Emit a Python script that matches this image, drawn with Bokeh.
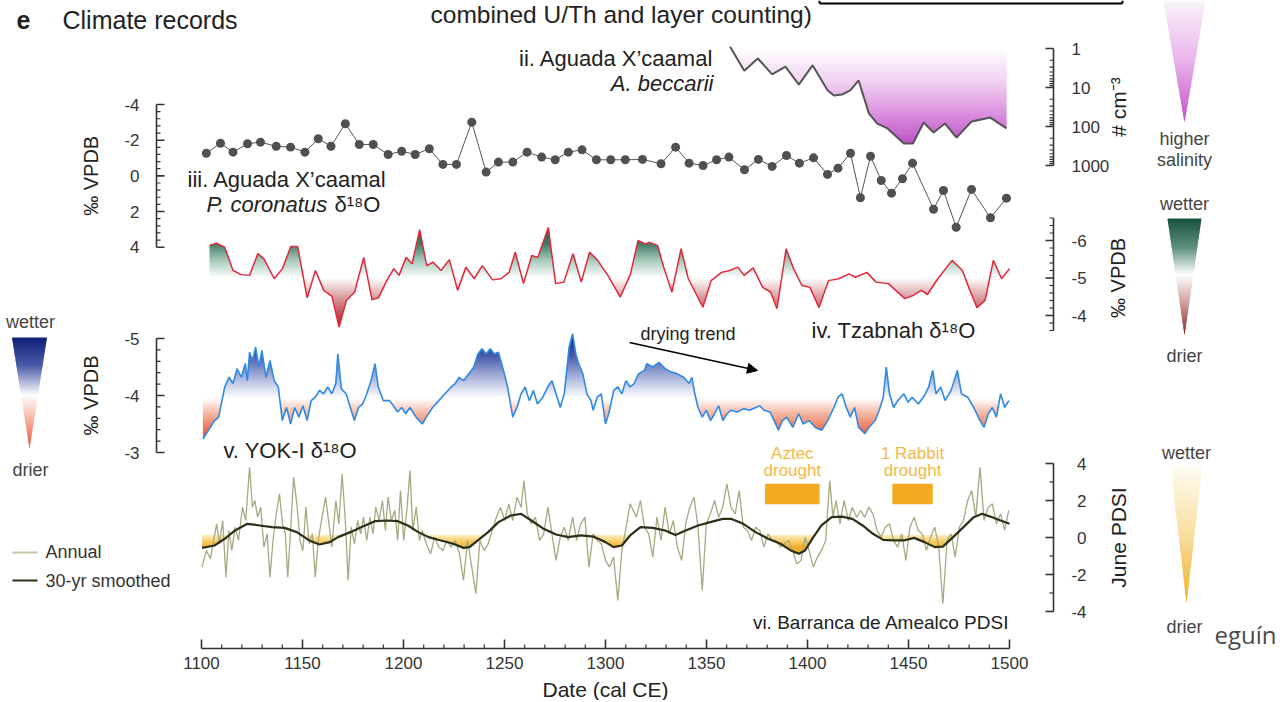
import numpy as np
from bokeh.plotting import figure
from bokeh.models import Range1d, Arrow, NormalHead
from bokeh.core.properties import value
from bokeh.embed import file_html
from bokeh.resources import INLINE

# ======================= DATA =======================
# ii. Aguada X'caamal, A. beccarii abundance (# cm^-3)
becc_year = [1361.7, 1368.7, 1375.4, 1382.5, 1389.1, 1395.7, 1402.5, 1410.0, 1413.1, 1417.1,
             1421.2, 1425.3, 1430.4, 1434.5, 1439.6, 1447.7, 1452.2, 1457.5, 1462.4, 1468.1,
             1473.8, 1481.3, 1490.5, 1498.5]
becc_count = [0.9, 3.7, 1.8, 4.6, 2.9, 8.4, 2.7, 11.9, 16.0, 15.1,
              11.9, 6.6, 46, 84, 112, 273, 273, 79, 143, 84,
              192, 74, 59, 112]

# iii. Aguada X'caamal, P. coronatus d18O (permil VPDB)
cor_year = [1102.4, 1109.4, 1115.6, 1122.8, 1129.2, 1137.0, 1144.1, 1151.2, 1157.8, 1164.1,
            1171.2, 1178.1, 1185.0, 1192.4, 1199.1, 1205.8, 1212.8, 1219.5, 1226.2, 1233.8,
            1240.9, 1247.0, 1254.1, 1261.2, 1268.4, 1275.1, 1281.6, 1288.4, 1295.5, 1302.6,
            1309.8, 1318.3, 1327.5, 1334.7, 1341.4, 1348.3, 1355.0, 1361.1, 1368.8, 1375.7,
            1382.5, 1389.6, 1396.0, 1403.0, 1409.9, 1415.1, 1421.3, 1426.2, 1431.2, 1436.5,
            1441.6, 1447.0, 1452.0, 1462.4, 1467.3, 1473.6, 1481.2, 1490.6, 1498.5]
cor_d18o = [-1.27, -1.83, -1.33, -1.80, -1.89, -1.66, -1.61, -1.33, -2.08, -1.66,
            -2.92, -1.76, -1.76, -1.20, -1.38, -1.20, -1.52, -0.64, -0.64, -3.01,
            -0.21, -0.77, -0.77, -1.33, -1.05, -0.90, -1.33, -1.46, -0.90, -0.90,
            -0.90, -0.92, -0.68, -1.61, -0.71, -0.58, -0.90, -1.05, -0.34, -0.92,
            -0.53, -1.14, -0.71, -1.01, -0.08, -0.43, -1.27, 1.23, -1.10, 0.26,
            0.97, 0.16, -0.71, 1.87, 0.82, 2.88, 0.76, 2.35, 1.25]

# iv. Tzabnah d18O (permil VPDB)
tz_year = [1104.0, 1107.4, 1111.5, 1115.6, 1119.7, 1123.8, 1127.9, 1130.9, 1136.0, 1140.1,
           1144.2, 1147.6, 1152.3, 1156.4, 1160.5, 1164.6, 1168.1, 1171.7, 1175.8, 1180.3,
           1184.4, 1187.6, 1191.7, 1195.2, 1197.8, 1201.3, 1204.3, 1208.0, 1211.5, 1214.6,
           1218.6, 1222.7, 1226.8, 1230.9, 1235.0, 1239.0, 1244.1, 1248.2, 1252.3, 1255.3,
           1259.4, 1263.5, 1266.5, 1271.7, 1275.3, 1279.4, 1283.9, 1288.0, 1292.1, 1296.1,
           1301.2, 1307.3, 1312.4, 1316.1, 1319.6, 1321.7, 1325.8, 1328.8, 1332.9, 1337.4,
           1341.0, 1348.2, 1352.3, 1357.4, 1361.5, 1365.5, 1368.6, 1373.1, 1377.8, 1381.8,
           1384.9, 1389.4, 1393.1, 1397.2, 1401.2, 1405.7, 1410.4, 1415.5, 1420.6, 1423.7,
           1429.4, 1433.9, 1440.0, 1448.2, 1452.2, 1456.3, 1459.4, 1464.5, 1471.6, 1476.7,
           1479.8, 1483.9, 1487.9, 1492.0, 1496.1, 1500.0]
tz_d18o = [-5.87, -5.93, -5.82, -5.20, -5.09, -5.07, -5.65, -5.51, -4.98, -5.25,
           -5.84, -5.84, -4.47, -5.20, -4.67, -4.51, -3.69, -4.40, -4.62, -5.55,
           -4.42, -4.47, -4.93, -5.25, -5.07, -5.55, -5.38, -6.29, -5.33, -5.42,
           -5.20, -5.49, -4.67, -5.29, -4.98, -5.33, -4.95, -4.98, -5.15, -5.69,
           -4.85, -5.60, -5.55, -6.35, -4.85, -4.89, -5.65, -4.89, -5.69, -5.47,
           -5.07, -4.49, -5.11, -6.00, -5.91, -5.95, -5.87, -5.29, -4.62, -5.78,
           -4.98, -4.22, -4.93, -5.15, -5.20, -5.29, -5.07, -5.27, -4.75, -4.62,
           -4.18, -5.78, -5.25, -4.80, -4.75, -4.21, -4.93, -4.98, -5.11, -5.02,
           -5.15, -4.89, -4.85, -4.45, -4.53, -4.67, -4.56, -4.98, -5.47, -5.20,
           -4.75, -4.21, -4.40, -5.47, -4.98, -5.25]

# v. YOK-I d18O (permil VPDB)
yok_year = [1100.7, 1102.4, 1104.4, 1106.4, 1108.5, 1111.5, 1113.6, 1115.6, 1117.6, 1119.7,
            1121.7, 1122.7, 1123.8, 1125.2, 1126.8, 1128.4, 1129.9, 1131.9, 1133.9, 1136.0,
            1138.0, 1140.0, 1142.1, 1144.1, 1146.1, 1148.2, 1150.2, 1152.3, 1154.3, 1156.3,
            1158.4, 1160.4, 1162.5, 1164.5, 1166.5, 1167.5, 1169.2, 1171.6, 1173.7, 1175.7,
            1177.7, 1179.8, 1181.8, 1183.9, 1185.9, 1187.5, 1190.0, 1193.0, 1195.0, 1197.1,
            1199.1, 1201.1, 1203.2, 1206.2, 1209.3, 1211.3, 1214.4, 1217.5, 1220.5, 1223.6,
            1225.6, 1227.6, 1229.7, 1231.7, 1234.8, 1236.8, 1238.9, 1240.9, 1242.9, 1245.0,
            1247.0, 1249.5, 1251.5, 1254.1, 1256.2, 1258.2, 1260.2, 1262.3, 1264.3, 1266.3,
            1269.0, 1271.4, 1273.5, 1275.5, 1277.6, 1279.6, 1282.0, 1283.7, 1285.3, 1286.7,
            1288.8, 1290.8, 1292.8, 1293.9, 1295.9, 1297.9, 1300.0, 1301.6, 1304.1, 1306.1,
            1308.1, 1310.1, 1312.2, 1314.2, 1316.3, 1319.3,
            1320.4, 1323.4, 1326.5, 1329.6, 1332.6, 1335.6, 1338.7, 1341.4, 1342.8, 1344.2,
            1345.8, 1347.9, 1349.9, 1352.0, 1354.0, 1356.0, 1358.1, 1360.1, 1362.1, 1365.2,
            1368.3, 1371.3, 1374.4, 1376.4, 1378.5, 1381.5, 1383.5, 1385.6, 1387.6, 1389.7,
            1392.7, 1395.7, 1397.8, 1400.8, 1403.9, 1407.0, 1410.0, 1413.1, 1415.1, 1417.1,
            1419.2, 1421.2, 1423.3, 1425.3, 1428.4, 1430.4, 1433.5, 1435.5, 1437.5, 1439.0,
            1440.6, 1442.6, 1444.7, 1447.7, 1449.8, 1451.8, 1454.9, 1457.9, 1460.0, 1462.0,
            1463.6, 1466.0, 1468.1, 1471.1, 1474.2, 1476.2, 1479.3, 1482.3, 1485.4, 1487.4,
            1489.5, 1491.5, 1493.5, 1495.6, 1497.6, 1499.7]
yok_d18o = [-3.24, -3.33, -3.44, -3.56, -3.62, -4.15, -4.32, -4.21, -4.47, -4.32,
            -4.56, -4.26, -4.76, -4.61, -4.85, -4.50, -4.79, -4.32, -4.61, -4.26,
            -4.15, -3.56, -3.79, -3.50, -3.79, -3.62, -3.82, -3.56, -3.91, -3.97,
            -4.09, -4.03, -4.15, -4.03, -4.21, -4.73, -4.12, -4.03, -3.79, -3.56,
            -3.79, -3.85, -4.03, -4.26, -4.56, -4.15, -3.91, -3.91, -3.82, -3.71,
            -3.79, -3.68, -3.79, -3.62, -3.50, -3.62, -3.79, -3.91, -4.03, -4.15,
            -4.21, -4.32, -4.26, -4.35, -4.50, -4.73, -4.82, -4.73, -4.82, -4.73,
            -4.76, -4.44, -4.15, -3.62, -3.79, -4.03, -4.15, -3.91, -4.09, -3.85,
            -3.97, -4.15, -4.26, -4.03, -3.79, -4.03, -4.85, -5.08, -4.73, -4.56,
            -4.38, -4.03, -3.91, -3.74, -3.97, -4.03, -3.50, -3.68, -4.09, -4.15,
            -4.03, -4.26, -4.15, -4.21, -4.38, -4.44,
            -4.56, -4.50, -4.58, -4.47, -4.41, -4.38, -4.32, -4.21, -4.32, -4.03,
            -3.79, -3.62, -3.74, -3.56, -3.68, -3.82, -3.56, -3.68, -3.74, -3.71,
            -3.77, -3.74, -3.79, -3.82, -3.74, -3.71, -3.56, -3.39, -3.56, -3.62,
            -3.44, -3.68, -3.50, -3.56, -3.44, -3.39, -3.56, -3.79, -3.97, -4.03,
            -3.79, -3.62, -3.79, -3.44, -3.33, -3.44, -3.56, -3.74, -3.97, -4.50,
            -4.03, -3.79, -3.91, -4.03, -3.88, -3.97, -3.85, -4.00, -4.15, -4.44,
            -4.03, -4.15, -3.91, -4.09, -4.44, -4.03, -3.97, -3.79, -3.56, -3.44,
            -3.68, -3.79, -3.62, -4.03, -3.79, -3.91]

# vi. Barranca de Amealco June PDSI, annual
pdsi_year = [1100.3, 1102.4, 1104.4, 1106.0, 1107.5, 1108.9, 1110.5, 1112.1, 1113.6, 1115.0,
             1116.6, 1118.3, 1120.3, 1121.9, 1123.8, 1125.2, 1126.4, 1127.8, 1129.3, 1130.9,
             1132.5, 1133.9, 1135.4, 1137.0, 1138.6, 1140.1, 1141.5, 1142.7, 1144.1, 1145.6,
             1147.2, 1148.8, 1150.2, 1151.7, 1153.3, 1154.9, 1156.3, 1157.8, 1159.4, 1161.4,
             1163.1, 1164.5, 1166.5, 1168.0, 1169.6, 1171.2, 1172.6, 1174.1, 1175.7, 1177.3,
             1178.8, 1180.2, 1181.8, 1183.4, 1184.9, 1186.3, 1187.9, 1189.6, 1191.0, 1192.4,
             1194.0, 1195.7, 1197.1, 1198.5, 1200.1, 1201.8, 1203.2, 1204.6, 1206.3, 1207.9,
             1209.3, 1211.3, 1213.4, 1215.4, 1217.5, 1219.5, 1221.5, 1223.6, 1225.6, 1227.7,
             1229.7, 1231.7, 1233.8, 1235.8, 1237.8, 1239.9, 1241.9, 1243.9, 1246.0, 1248.0,
             1250.1, 1252.1, 1254.1, 1256.2, 1258.2, 1259.6, 1261.3, 1263.3, 1265.3, 1267.4,
             1269.4, 1271.5, 1273.5, 1275.5, 1277.6, 1279.6, 1281.6, 1283.7, 1285.7, 1287.7,
             1289.8, 1291.8, 1293.9, 1295.9, 1297.9, 1300.0, 1302.0, 1304.0, 1306.1, 1308.1,
             1310.2, 1312.2, 1315.3, 1317.3, 1319.3,
             1321.4, 1323.4, 1325.5, 1327.5, 1329.5, 1331.6, 1333.6, 1335.6, 1337.7, 1339.7,
             1341.7, 1343.8, 1345.8, 1347.9, 1349.9, 1351.9, 1354.0, 1356.0, 1358.0, 1360.1,
             1362.1, 1364.2, 1366.2, 1368.2, 1370.3, 1372.3, 1374.3, 1376.4, 1378.4, 1380.5,
             1382.5, 1384.5, 1386.6, 1388.6, 1390.6, 1392.7, 1394.7, 1396.8, 1398.8, 1400.8,
             1402.9, 1404.9, 1406.9, 1409.0, 1411.0, 1412.6, 1414.1, 1416.1, 1418.1, 1420.2,
             1422.2, 1424.3, 1426.3, 1428.3, 1430.4, 1432.4, 1434.4, 1436.5, 1438.5, 1440.6,
             1442.6, 1444.6, 1446.7, 1448.7, 1450.7, 1452.8, 1454.8, 1456.8, 1458.9, 1460.9,
             1463.0, 1465.0, 1467.0, 1469.1, 1471.1, 1473.1, 1475.2, 1477.2, 1479.3, 1481.3,
             1483.3, 1485.4, 1487.4, 1489.5, 1491.5, 1493.5, 1495.6, 1497.6, 1499.6]
pdsi_annual = [-1.60, -0.70, -1.15, -0.16, 0.74, -0.34, 0.92, -2.14, 0.38, -0.70,
               0.56, -0.16, 1.64, 0.92, 3.80, 1.64, 2.00, 1.10, 1.64, -0.52,
               0.20, -2.14, -0.16, 1.28, 2.36, 0.74, 0.20, -2.14, 0.38, 3.26,
               1.82, -0.16, -0.70, 1.64, -0.34, 0.20, -2.14, -0.16, 0.92, 2.18,
               0.74, -0.52, 2.00, 0.74, 3.44, 0.92, -2.32, 0.56, -0.34, 0.92,
               0.20, 1.10, -0.16, 1.10, 0.20, 1.64, 0.92, 2.00, 0.38, 2.18,
               0.92, 1.46, -0.16, 2.54, -0.16, 1.64, 3.62, 0.38, 1.64, -0.16,
               0.38, -0.34, -0.88, 0.02, -0.52, -0.70, -0.16, -0.52, -0.16, -0.88,
               -2.32, -0.16, -1.60, -3.04, -0.16, -0.70, -0.34, 0.38, 1.10, 1.64,
               0.92, 1.82, 0.92, 2.18, 1.64, 3.08, 1.28, 0.74, 1.10, -0.16,
               0.20, 1.64, 0.20, -1.24, 0.02, 0.56, -0.16, 1.10, -0.16, 0.74,
               1.10, -1.60, 0.20, -0.16, -0.34, -1.24, -1.60, -1.06, -3.40, -0.70,
               0.56, 1.82, 1.10, 2.00, 0.56,
               0.20, -1.06, 1.10, -0.16, 1.64, 0.20, 0.92, -0.52, -1.24, 0.74,
               1.64, 2.18, 0.56, -2.86, 0.74, 1.28, 2.00, 1.10, 1.64, 2.90,
               1.64, 1.28, 2.54, 0.56, 0.38, -0.16, 0.56, 0.38, -0.52, 0.20,
               -0.16, -0.16, -0.52, -0.34, -0.16, -0.70, -1.42, -1.24, 0.02, -0.70,
               -1.60, -1.06, -0.70, -0.16, 3.08, 1.10, 2.00, 0.74, 2.00, 0.92,
               1.64, 1.10, 1.46, 1.10, 1.64, 1.28, 0.38, 0.02, 0.56, 0.74,
               -0.16, -0.52, 0.20, -1.24, 0.56, 1.10, 0.38, 0.20, -0.70, 0.02,
               0.56, -0.52, -3.58, -0.16, 0.20, -1.06, 0.56, 0.92, 2.00, 2.54,
               1.10, 3.80, 0.92, 1.64, 1.82, 0.74, 1.28, 0.38, 1.46]

# vi. 30-yr smoothed PDSI
smooth_year = [1100.3, 1106.4, 1111.5, 1116.6, 1122.7, 1128.8, 1135.0, 1141.1, 1147.2, 1153.3,
               1158.4, 1163.5, 1167.6, 1173.7, 1179.8, 1185.9, 1192.0, 1197.1, 1202.2, 1207.3,
               1212.4, 1218.5, 1224.6, 1229.7, 1232.7, 1236.8, 1241.9, 1247.0, 1253.1, 1258.2,
               1263.3, 1269.4, 1275.5, 1281.6, 1287.7, 1293.9, 1300.0, 1304.0, 1308.1, 1312.2,
               1317.3, 1323.4, 1329.5, 1334.6, 1339.7, 1345.8, 1351.9, 1358.0, 1362.1, 1368.2,
               1374.3, 1380.5, 1386.6, 1391.7, 1395.7, 1398.8, 1402.9, 1406.9, 1412.0, 1417.1,
               1422.2, 1427.3, 1432.4, 1437.5, 1442.6, 1447.7, 1452.8, 1457.9, 1463.0, 1467.0,
               1472.1, 1477.2, 1482.3, 1486.4, 1490.5, 1495.6, 1500.0]
pdsi_smooth = [-0.56, -0.43, -0.07, 0.38, 0.74, 0.65, 0.56, 0.52, 0.29, -0.16,
               -0.38, -0.25, 0.02, 0.29, 0.59, 0.88, 0.92, 0.88, 0.65, 0.29,
               0.02, -0.16, -0.34, -0.56, -0.52, -0.16, 0.29, 0.83, 1.19, 1.28,
               0.92, 0.47, 0.16, 0.02, 0.11, 0.05, -0.25, -0.52, -0.43, 0.11,
               0.56, 0.52, 0.38, 0.14, 0.38, 0.65, 0.83, 1.01, 1.01, 0.74,
               0.29, -0.07, -0.34, -0.70, -0.88, -0.70, 0.02, 0.65, 1.10, 1.13,
               1.01, 0.65, 0.20, -0.13, -0.16, -0.16, -0.02, -0.25, -0.52, -0.49,
               0.02, 0.56, 1.10, 1.28, 1.13, 0.92, 0.74]

# drought episodes
drought_label = [["Aztec", "drought"], ["1 Rabbit", "drought"]]
drought_start = [1379, 1442]
drought_end = [1406, 1462]

# axis ticks / labels
year_major = [1100, 1150, 1200, 1250, 1300, 1350, 1400, 1450, 1500]
cor_ticks = [-4, -2, 0, 2, 4]
yok_ticks = [-5, -4, -3]
tz_ticks = [-6, -5, -4]
becc_ticks = [1, 10, 100, 1000]
pdsi_ticks = [4, 2, 0, -2, -4]

# ======================= LAYOUT =======================
W, H = 1280, 700
FONT = value("Liberation Sans")
TXT = "#222222"
AX = "#333333"
LAB = 17

p = figure(width=W, height=H, x_range=Range1d(0, W), y_range=Range1d(H, 0),
           x_axis_type=None, y_axis_type=None, toolbar_location=None,
           output_backend="svg", min_border=0, outline_line_color=None)
p.background_fill_color = "white"
p.border_fill_color = "white"

X0, X1, PX0, PX1 = 1100.0, 1500.0, 201.0, 1009.0
KX = (PX1 - PX0) / (X1 - X0)
p.extra_x_ranges = {"yr": Range1d(X0 + (0 - PX0) / KX, X0 + (W - PX0) / KX)}


def yrange(va, ya, vb, yb):
    s = (vb - va) / (yb - ya)
    return Range1d(start=va + s * (H - ya), end=va + s * (0 - ya))


p.extra_y_ranges = {
    "ii": yrange(0, 48, 3, 165),
    "iii": yrange(-4, 104, 4, 246.7),
    "iv": yrange(-6, 240, -4, 315),
    "v": yrange(-5, 338, -3, 452),
    "vi": yrange(4, 463, -4, 611),
}


def ramp(stops, v):
    stops = sorted(stops)
    vs = [s[0] for s in stops]
    rgb = [int(round(np.interp(v, vs, [s[1][i] for s in stops]))) for i in range(3)]
    return "#%02x%02x%02x" % tuple(rgb)


def gradient_fill(xs, ys, base, stops, yname, per_unit, sides=(1, -1), step=0.25):
    xs = np.asarray(xs, float)
    ys = np.asarray(ys, float)
    xf = np.append(np.arange(xs[0], xs[-1], step), xs[-1])
    cf = np.interp(xf, xs, ys)
    PXs, PYs, C = [], [], []
    for sg in sides:
        ext = (cf - base).max() if sg > 0 else (base - cf).max()
        if ext <= 0:
            continue
        n = max(2, int(np.ceil(ext * per_unit)))
        h = ext / n
        for k in range(n):
            a = base + sg * k * h
            b = base + sg * (k + 1.5) * h
            mask = (cf - a) * sg > 0
            if not mask.any():
                continue
            ed = np.flatnonzero(np.diff(np.concatenate(([0], mask.astype(int), [0]))))
            for s, e in zip(ed[0::2], ed[1::2]):
                s0, e0 = max(s - 1, 0), min(e + 1, len(xf))
                xx = xf[s0:e0]
                yy = np.clip(cf[s0:e0], min(a, b), max(a, b))
                PXs.append(np.concatenate([xx, xx[::-1]]))
                PYs.append(np.concatenate([yy, np.full(len(xx), a)]))
                C.append(ramp(stops, base + sg * (k + 0.5) * h))
    p.patches(PXs, PYs, fill_color=C, line_color=None, x_range_name="yr", y_range_name=yname)


def triangle(cx, top, tip, halfw, stops, step=1.5):
    edges = np.arange(top, tip, step)
    xs, ys, cols = [], [], []
    for a in edges:
        b = min(a + step * 1.5, tip)
        wa = halfw * (tip - a) / (tip - top)
        wb = halfw * (tip - b) / (tip - top)
        xs.append([cx - wa, cx + wa, cx + wb, cx - wb])
        ys.append([a, a, b, b])
        cols.append(ramp(stops, (a + step / 2 - top) / (tip - top)))
    p.patches(xs, ys, fill_color=cols, line_color=None)


def txt(x, y, s, size, align="left", color=TXT, style="normal", angle=0.0,
        xname="default", yname="default", font=FONT):
    p.text(x=[x], y=[y], text=[s], text_font=font, text_font_size=f"{size}px",
           text_font_style=style, text_align=align, text_baseline="middle",
           text_color=color, angle=angle, x_range_name=xname, y_range_name=yname)


def vaxis(yname, x, lo, hi, majors, labels, minors, d, lab_x, lab_align, maj=8, mnr=4):
    p.segment(x0=[x], y0=[lo], x1=[x], y1=[hi], line_color=AX, line_width=1.6, y_range_name=yname)
    p.segment(x0=[x] * len(majors), y0=majors, x1=[x + d * maj] * len(majors), y1=majors,
              line_color=AX, line_width=1.6, y_range_name=yname)
    if len(minors):
        p.segment(x0=[x] * len(minors), y0=list(minors), x1=[x + d * mnr] * len(minors),
                  y1=list(minors), line_color=AX, line_width=1.2, y_range_name=yname)
    p.text(x=[lab_x] * len(majors), y=majors, text=labels, text_font=FONT, text_font_size=f"{LAB}px",
           text_align=lab_align, text_baseline="middle", text_color=AX, y_range_name=yname)


def minor_ticks(lo, hi, stepv, majors):
    vals = np.round(np.arange(lo, hi + stepv / 2, stepv), 3)
    return [float(v) for v in vals if all(abs(v - m) > 1e-6 for m in majors)]


# ---------------- gradient fills ----------------
becc_log = np.log10(becc_count)
gradient_fill(becc_year, becc_log, np.log10(1.1),
              [(0.0, (255, 255, 255)), (0.8, (242, 212, 242)), (1.6, (222, 150, 225)), (2.45, (188, 80, 196))],
              "ii", 26, sides=(1,))
gradient_fill(tz_year, tz_d18o, -5.0,
              [(-6.4, (22, 82, 62)), (-5.9, (70, 125, 105)), (-5.45, (170, 205, 190)), (-5.0, (255, 255, 255)),
               (-4.5, (218, 160, 160)), (-4.0, (195, 70, 78)), (-3.65, (175, 20, 32))],
              "iv", 26)
gradient_fill(yok_year, yok_d18o, -3.95,
              [(-5.1, (18, 32, 120)), (-4.7, (70, 90, 170)), (-4.3, (175, 185, 222)), (-3.95, (255, 255, 255)),
               (-3.7, (246, 188, 168)), (-3.4, (236, 112, 82)), (-3.2, (230, 80, 50))],
              "v", 38)
gradient_fill(smooth_year, pdsi_smooth, 0.15,
              [(0.15, (253, 240, 200)), (-0.2, (248, 205, 100)), (-0.6, (240, 170, 35))],
              "vi", 16, sides=(-1,))

# ---------------- series ----------------
p.line(becc_year, becc_log, line_color="#555555", line_width=2, x_range_name="yr", y_range_name="ii")
p.line(cor_year, cor_d18o, line_color="#555555", line_width=1, x_range_name="yr", y_range_name="iii")
p.scatter(cor_year, cor_d18o, size=9, fill_color="#505050", line_color=None, x_range_name="yr", y_range_name="iii")
p.line(tz_year, tz_d18o, line_color="#e0283c", line_width=1.5, x_range_name="yr", y_range_name="iv")
p.line(yok_year, yok_d18o, line_color="#2f8ae6", line_width=1.6, x_range_name="yr", y_range_name="v")
p.line(pdsi_year, pdsi_annual, line_color="#aaa880", line_width=1.3, x_range_name="yr", y_range_name="vi")
p.line(smooth_year, pdsi_smooth, line_color="#2b3118", line_width=2.2, x_range_name="yr", y_range_name="vi")

# drought bars + labels
p.quad(left=drought_start, right=drought_end, bottom=[1.8] * 2, top=[2.9] * 2,
       fill_color="#f4a922", line_color=None, x_range_name="yr", y_range_name="vi")
for lab, s, e in zip(drought_label, drought_start, drought_end):
    cx = (s + e) / 2
    txt(cx, 4.55, lab[0], 17, align="center", color="#f5b846", xname="yr", yname="vi")
    txt(cx, 3.62, lab[1], 17, align="center", color="#f5b846", xname="yr", yname="vi")

# ---------------- axes ----------------
# x axis
yr_minor = [y for y in range(1100, 1501, 10) if y % 50]
p.segment(x0=[1100], y0=[648], x1=[1500], y1=[648], line_color=AX, line_width=1.6, x_range_name="yr")
p.segment(x0=year_major, y0=[648] * len(year_major), x1=year_major, y1=[639] * len(year_major),
          line_color=AX, line_width=1.6, x_range_name="yr")
p.segment(x0=yr_minor, y0=[648] * len(yr_minor), x1=yr_minor, y1=[644] * len(yr_minor),
          line_color=AX, line_width=1.2, x_range_name="yr")
p.text(x=year_major, y=[662] * len(year_major), text=[str(v) for v in year_major], text_font=FONT,
       text_font_size=f"{LAB}px", text_align="center", text_baseline="middle", text_color=AX,
       x_range_name="yr")
txt(605, 689, "Date (cal CE)", 21, align="center")

# iii (left)
vaxis("iii", 156, -4, 4, cor_ticks, [str(v) for v in cor_ticks], minor_ticks(-4, 4, 0.4, cor_ticks), 1, 139, "right")
txt(90, 0, "‰ VPDB", 20, align="center", angle=np.pi / 2, yname="iii")
# v (left)
vaxis("v", 156, -5, -3, yok_ticks, [str(v) for v in yok_ticks], minor_ticks(-5, -3, 0.2, yok_ticks), 1, 139, "right")
txt(90, -4.0, "‰ VPDB", 20, align="center", angle=np.pi / 2, yname="v")
# ii (right, log)
becc_major = [float(np.log10(v)) for v in becc_ticks]
becc_minor = [float(np.log10(k * 10 ** d)) for d in range(3) for k in range(2, 10)]
vaxis("ii", 1053, 0, 3, becc_major, [str(v) for v in becc_ticks], becc_minor, -1, 1071, "left")
txt(1118, 1.5, "# cm⁻³", 21, align="center", angle=np.pi / 2, yname="ii")
# iv (right)
vaxis("iv", 1053, -6.6, -3.6, tz_ticks, [str(v) for v in tz_ticks], minor_ticks(-6.6, -3.6, 0.2, tz_ticks), -1, 1071, "left")
txt(1117, -5.0, "‰ VPDB", 20, align="center", angle=np.pi / 2, yname="iv")
# vi (right)
vaxis("vi", 1053, -4, 4, pdsi_ticks, [str(v) for v in pdsi_ticks], [3, 1, -1, -3], -1, 1086, "right")
txt(1118, 0, "June PDSI", 21, align="center", angle=np.pi / 2, yname="vi")

# ---------------- text labels ----------------
txt(16, 19, "e", 25, style="bold")
txt(62, 19, "Climate records", 25)
txt(430, 14, "combined U/Th and layer counting)", 24.5)
p.segment(x0=[819, 819, 1122], y0=[3, 0, 0], x1=[1122, 819, 1122], y1=[3, 3, 3],
          line_color="black", line_width=2)

txt(713, 58, "ii. Aguada X’caamal", 22, align="right")
txt(713, 83, "A. beccarii", 22, align="right", style="italic")
txt(187, 179, "iii. Aguada X’caamal", 22)
txt(206, 204, "P. coronatus", 22, style="italic")
txt(334, 204, "δ¹⁸O", 22)
txt(811, 330, "iv. Tzabnah δ¹⁸O", 22)
txt(223, 450, "v. YOK-I δ¹⁸O", 22)
txt(1009, 622, "vi. Barranca de Amealco PDSI", 19, align="right")
txt(640, 333, "drying trend", 18)
p.add_layout(Arrow(end=NormalHead(size=10, fill_color="black", line_color="black"),
                   x_start=629, y_start=342, x_end=757, y_end=370,
                   line_color="black", line_width=1.6))

# legend (left)
p.segment(x0=[12], y0=[552], x1=[37], y1=[552], line_color="#c8c8aa", line_width=2)
p.segment(x0=[12], y0=[580], x1=[37], y1=[580], line_color="#2b3118", line_width=2)
txt(45, 551, "Annual", 18, color="#333333")
txt(45, 580, "30-yr smoothed", 18, color="#333333")

# ---------------- colour keys ----------------
triangle(29, 337, 448, 17.5,
         [(0, (15, 30, 120)), (0.25, (75, 90, 168)), (0.52, (255, 255, 255)), (0.76, (246, 172, 150)), (1, (235, 80, 50))])
txt(30, 321, "wetter", 18, align="center", color="#444444")
txt(30, 469, "drier", 18, align="center", color="#444444")

triangle(1184, 0, 122, 21,
         [(0, (250, 244, 250)), (0.5, (232, 178, 234)), (1, (195, 80, 200))])
txt(1184, 138, "higher", 18, align="center", color="#444444")
txt(1184, 159, "salinity", 18, align="center", color="#444444")

triangle(1184, 218, 335, 17,
         [(0, (22, 80, 60)), (0.25, (95, 145, 125)), (0.48, (255, 255, 255)), (0.74, (205, 150, 150)), (1, (130, 35, 35))])
txt(1184, 203, "wetter", 18, align="center", color="#444444")
txt(1184, 355, "drier", 18, align="center", color="#444444")

triangle(1186, 465, 603, 16,
         [(0, (255, 252, 242)), (0.5, (248, 222, 160)), (1, (240, 175, 40))])
txt(1186, 452, "wetter", 18, align="center", color="#444444")
txt(1184, 626, "drier", 18, align="center", color="#444444")

txt(1214, 634, "eguín", 24, color="#4a4a4a", font=value("Open Sans"))

open("out.html", "w").write(file_html(p, INLINE))
